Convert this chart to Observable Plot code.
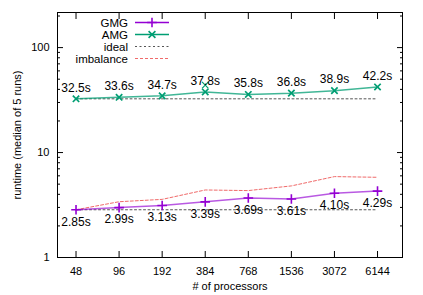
<!DOCTYPE html>
<html><head><meta charset="utf-8">
<script src="https://cdn.jsdelivr.net/npm/d3@7"></script>
<script src="https://cdn.jsdelivr.net/npm/@observablehq/plot@0.6"></script>
<style>
body{margin:0;background:#fff;}
svg{font-family:"Liberation Sans",Arial,sans-serif;}
</style>
</head><body><div id="chart"></div>
<script>
const processors = ["48","96","192","384","768","1536","3072","6144"];
const gmg = [2.85,2.99,3.13,3.39,3.69,3.61,4.10,4.29];
const amg = [32.5,33.6,34.7,37.8,35.8,36.8,38.9,42.2];
const gmgImbalance = [2.85,3.40,3.58,4.40,4.34,4.81,5.90,5.81];
const amgExtraRunIdx = [3];
const amgExtraRunVal = [43.9];
const yMajor = [1,10,100];
const yMinor = [2,3,4,5,6,7,8,9,20,30,40,50,60,70,80,90,200];
const legendNames = ["GMG","AMG","ideal","imbalance"];

const purple = "#9400d3", green = "#009e73", gray = "#555", red = "#f06a6a";
const rows = processors.map((p,i)=>({i, p, gmg: gmg[i], amg: amg[i], imb: gmgImbalance[i], idealG: gmg[0], idealA: amg[0]}));
const extra = amgExtraRunIdx.map((i,k)=>({i, v: amgExtraRunVal[k]}));
const idx = d3.range(processors.length);

const chart = Plot.plot({
  width: 423, height: 295,
  marginLeft: 57, marginRight: 21, marginTop: 12, marginBottom: 38,
  style: {fontFamily: "Liberation Sans, Arial, sans-serif", fontSize: "11px", background: "#fff"},
  x: {type: "linear", domain: [-0.43, 7.58]},
  y: {type: "log", domain: [1, 216]},
  marks: [
    Plot.axisX({ticks: idx, tickFormat: i => processors[i], tickSize: 0, tickPadding: 10, fontSize: 11,
      label: "# of processors", labelAnchor: "center", labelArrow: "none", labelOffset: 32}),
    Plot.axisX({ticks: idx, tickSize: -6, tickFormat: () => "", label: null}),
    Plot.axisX({anchor: "top", ticks: idx, tickSize: -6, tickFormat: () => "", label: null}),
    Plot.axisY({ticks: yMajor, tickSize: 0, tickPadding: 8, tickFormat: d => String(d), fontSize: 11,
      label: "runtime (median of 5 runs)", labelAnchor: "center", labelArrow: "none", labelOffset: 44}),
    Plot.axisY({ticks: yMajor, tickSize: -6, tickFormat: () => "", label: null}),
    Plot.axisY({ticks: yMinor, tickSize: -3, tickFormat: () => "", label: null}),
    Plot.axisY({anchor: "right", ticks: yMajor, tickSize: -6, tickFormat: () => "", label: null}),
    Plot.axisY({anchor: "right", ticks: yMinor, tickSize: -3, tickFormat: () => "", label: null}),
    Plot.frame({stroke: "#000"}),
    Plot.line(rows, {x: "i", y: "idealA", stroke: gray, strokeWidth: 1, strokeDasharray: "2,2.5"}),
    Plot.line(rows, {x: "i", y: "idealG", stroke: gray, strokeWidth: 1, strokeDasharray: "2,2.5"}),
    Plot.line(rows, {x: "i", y: "imb", stroke: red, strokeWidth: 1, strokeDasharray: "3,2"}),
    Plot.line(rows, {x: "i", y: "amg", stroke: green, strokeWidth: 1.5, strokeOpacity: 0.75}),
    Plot.dot(rows, {x: "i", y: "amg", symbol: "times", stroke: green, r: 3, strokeWidth: 1.7}),
    Plot.dot(extra, {x: "i", y: "v", symbol: "times", stroke: green, r: 3, strokeWidth: 1.2}),
    Plot.line(rows, {x: "i", y: "gmg", stroke: purple, strokeWidth: 1.5, strokeOpacity: 0.65}),
    Plot.dot(rows, {x: "i", y: "gmg", symbol: "plus", stroke: purple, r: 3.2, strokeWidth: 1.6}),
    Plot.text(rows, {x: "i", y: "amg", text: d => d.amg.toFixed(1) + "s", dy: -11, fontSize: 12, fill: "#000"}),
    Plot.text(rows, {x: "i", y: "gmg", text: d => d.gmg.toFixed(2) + "s", dy: 12, fontSize: 12, fill: "#000"})
  ]
});
document.getElementById("chart").appendChild(chart);

const svg = d3.select(chart);
const lg = svg.append("g").attr("font-size", 11.5).attr("font-family", "Liberation Sans, Arial, sans-serif");
const styles = [
  {stroke: purple, dash: null, sym: "plus", w: 1.5},
  {stroke: green, dash: null, sym: "times", w: 1.5},
  {stroke: gray, dash: "2,2.5", sym: null, w: 1},
  {stroke: red, dash: "3,2", sym: null, w: 1}
];
legendNames.forEach((name, k) => {
  const y = 22.5 + k * 12;
  lg.append("text").attr("x", 128).attr("y", y).attr("dy", "0.35em").attr("text-anchor", "end").text(name);
  const s = styles[k];
  lg.append("line").attr("x1", 135).attr("x2", 169).attr("y1", y).attr("y2", y)
    .attr("stroke", s.stroke).attr("stroke-width", s.w).attr("stroke-dasharray", s.dash);
  if (s.sym) {
    const sym = s.sym === "plus" ? d3.symbolPlus : d3.symbolTimes;
    lg.append("path").attr("d", d3.symbol(sym, Math.PI * 3.2 * 3.2)()).attr("transform", `translate(152,${y})`)
      .attr("fill", "none").attr("stroke", s.stroke).attr("stroke-width", 1.6);
  }
});
</script>
</body></html>
